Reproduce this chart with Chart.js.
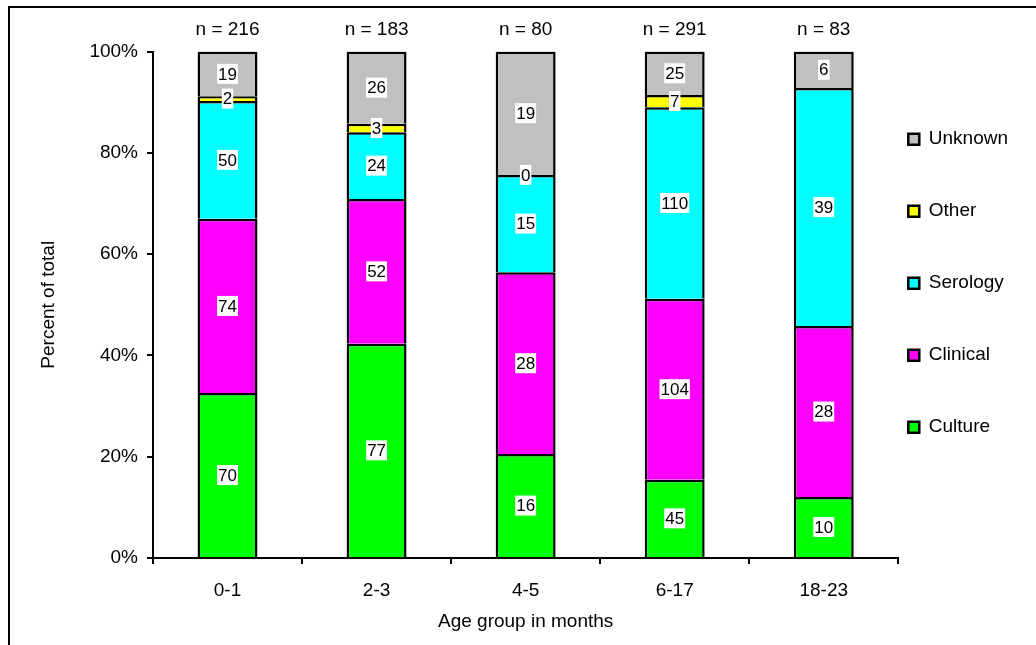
<!DOCTYPE html>
<html>
<head>
<meta charset="utf-8">
<script src="https://cdn.jsdelivr.net/npm/chart.js@4.4.1/dist/chart.umd.min.js"></script>
<style>
  body { margin: 0; background: #fff; }
  #wrap { position: relative; width: 1036px; height: 645px; }
  #frame { position: absolute; left: 8px; top: 6px; right: 0; bottom: 0; border-top: 2px solid #000; border-left: 2px solid #000; pointer-events: none; }
</style>
</head>
<body>
<div id="wrap">
  <canvas id="chart" width="1036" height="645"></canvas>
  <div id="frame"></div>
</div>
<script>
const ageGroups = ['0-1', '2-3', '4-5', '6-17', '18-23'];
const nTotals = [216, 183, 80, 291, 83];
const culture = [70, 77, 16, 45, 10];
const clinical = [74, 52, 28, 104, 28];
const serology = [50, 24, 15, 110, 39];
const other = [2, 3, 0, 7, null];
const unknown = [19, 26, 19, 25, 6];
const yTicks = [0, 20, 40, 60, 80, 100];

const FONT = "'Liberation Sans', Arial, sans-serif";

// counts per series, bottom to top
const series = [
  { label: 'Culture', counts: culture, color: '#00ff00' },
  { label: 'Clinical', counts: clinical, color: '#ff00ff' },
  { label: 'Serology', counts: serology, color: '#00ffff' },
  { label: 'Other', counts: other, color: '#ffff00' },
  { label: 'Unknown', counts: unknown, color: '#c0c0c0' }
];

// 100% stacked: each bar is scaled by the sum of its segments
const sums = ageGroups.map((g, j) => series.reduce((s, d) => s + (d.counts[j] || 0), 0));

const datasets = series.map(d => ({
  label: d.label,
  data: d.counts.map((v, j) => v == null ? null : v / sums[j] * 100),
  backgroundColor: d.color,
  borderColor: '#000',
  borderWidth: 2.5,
  categoryPercentage: 1,
  barPercentage: 0.402
}));

const segmentLabels = {
  id: 'segmentLabels',
  afterDatasetsDraw(chart) {
    const ctx = chart.ctx;
    ctx.save();
    ctx.font = '17px ' + FONT;
    ctx.textAlign = 'center';
    ctx.textBaseline = 'middle';
    const h = 20;
    ageGroups.forEach((g, j) => {
      const items = [];
      series.forEach((d, i) => {
        const v = d.counts[j];
        if (v == null) return;
        const bar = chart.getDatasetMeta(i).data[j];
        items.push({ text: String(v), x: bar.x, y: (bar.y + bar.base) / 2 });
      });
      // bottom to top, keep labels from overlapping
      for (let k = 1; k < items.length; k++) {
        if (items[k].y > items[k - 1].y - h) items[k].y = items[k - 1].y - h;
      }
      items.forEach(it => {
        const w = ctx.measureText(it.text).width + 2;
        ctx.fillStyle = '#fff';
        ctx.fillRect(it.x - w / 2, it.y - h / 2, w, h);
        ctx.fillStyle = '#000';
        ctx.fillText(it.text, it.x, it.y + 1);
      });
    });
    // n = ... above each bar
    ctx.font = '19px ' + FONT;
    const xs = chart.scales.x;
    ageGroups.forEach((g, j) => {
      ctx.fillText('n = ' + nTotals[j], xs.getPixelForValue(j), chart.chartArea.top - 22);
    });
    ctx.restore();
  }
};

new Chart(document.getElementById('chart'), {
  type: 'bar',
  data: { labels: ageGroups, datasets: datasets },
  plugins: [segmentLabels],
  options: {
    responsive: false,
    animation: false,
    layout: { padding: { top: 51.5, right: 18, left: 0, bottom: 0 } },
    scales: {
      x: {
        stacked: true,
        afterFit: s => { s.height = 87; },
        grid: { drawOnChartArea: false, color: '#000', lineWidth: 2, tickLength: 6, offset: true },
        border: { color: '#000', width: 2 },
        ticks: { color: '#000', font: { family: FONT, size: 19 }, padding: 15 },
        title: { display: true, text: 'Age group in months', color: '#000', font: { family: FONT, size: 19 }, padding: { bottom: 12 } }
      },
      y: {
        stacked: true,
        min: 0,
        max: 100,
        afterFit: s => { s.width = 153; },
        afterBuildTicks: s => { s.ticks = yTicks.map(v => ({ value: v })); },
        grid: { drawOnChartArea: false, color: '#000', lineWidth: 2, tickLength: 6 },
        border: { color: '#000', width: 2 },
        ticks: { color: '#000', font: { family: FONT, size: 19 }, padding: 9, callback: v => v + '%' },
        title: { display: true, text: 'Percent of total', color: '#000', font: { family: FONT, size: 19 }, padding: { top: 37 } }
      }
    },
    plugins: {
      tooltip: { enabled: false },
      legend: {
        position: 'right',
        fullSize: false,
        reverse: true,
        labels: {
          boxWidth: 11,
          boxHeight: 11,
          padding: 10,
          color: '#000',
          font: { family: FONT, size: 19, lineHeight: 62 / 19 },
          generateLabels: chart => Chart.defaults.plugins.legend.labels.generateLabels(chart)
            .map(item => Object.assign(item, { text: [item.text] }))
        }
      }
    }
  }
});
</script>
</body>
</html>
